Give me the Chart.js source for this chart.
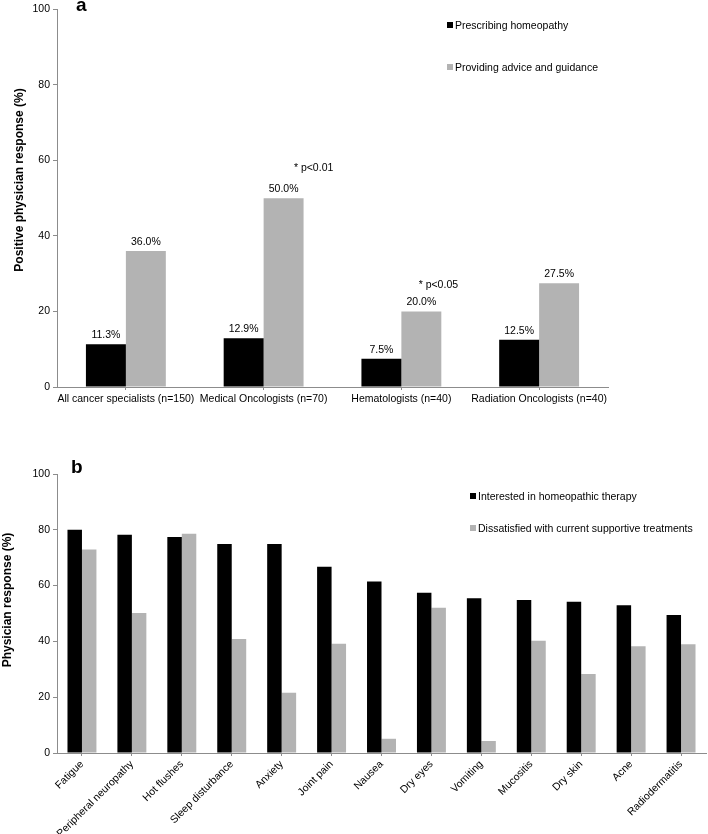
<!DOCTYPE html>
<html>
<head>
<meta charset="utf-8">
<script src="https://cdn.jsdelivr.net/npm/chart.js@4.4.0/dist/chart.umd.min.js"></script>
<style>
  body { margin: 0; background: #fff; font-family: "Liberation Sans", Arial, sans-serif; }
  #wrap { position: relative; width: 708px; height: 834px; overflow: hidden; }
  .cv { position: absolute; left: 0; }
  .panel { position: absolute; font-weight: bold; font-size: 19px; }
  .leg { position: absolute; font-size: 10.5px; line-height: 12px; white-space: nowrap; }
  .leg i { display: inline-block; width: 6px; height: 6px; margin-right: 2px; vertical-align: 1px; }
  .ytitle { position: absolute; width: 260px; height: 14px; line-height: 14px; text-align: center;
            font-size: 12px; font-weight: bold; transform: rotate(-90deg); white-space: nowrap; }
</style>
</head>
<body>
<div id="wrap">
  <canvas id="chartA" class="cv" style="top:0" width="708" height="420"></canvas>
  <canvas id="chartB" class="cv" style="top:440px" width="708" height="394"></canvas>
  <div class="panel" style="left:76px;top:-6px">a</div>
  <div class="panel" style="left:71px;top:456px">b</div>
  <div id="titleA" class="ytitle" style="left:-111px;top:173px"></div>
  <div id="titleB" class="ytitle" style="left:-123px;top:593px"></div>
  <div id="legA"></div>
  <div id="legB"></div>
</div>
<script>
// panel a
let groups = ["All cancer specialists (n=150)", "Medical Oncologists (n=70)", "Hematologists (n=40)", "Radiation Oncologists (n=40)"];
let prescribing = [11.3, 12.9, 7.5, 12.5];
let advice = [36.0, 50.0, 20.0, 27.5];
let seriesA = ["Prescribing homeopathy", "Providing advice and guidance"];
let notes = ["", "* p<0.01", "* p<0.05", ""];

// panel b
let symptoms = ["Fatigue", "Peripheral neuropathy", "Hot flushes", "Sleep disturbance", "Anxiety", "Joint pain",
  "Nausea", "Dry eyes", "Vomiting", "Mucositis", "Dry skin", "Acne", "Radiodermatitis"];
let interested = [80.0, 78.2, 77.4, 74.9, 74.9, 66.8, 61.5, 57.4, 55.5, 54.8, 54.2, 53.0, 49.5];
let dissatisfied = [72.9, 50.2, 78.6, 40.9, 21.6, 39.2, 5.1, 52.1, 4.3, 40.2, 28.3, 38.3, 39.0];
let seriesB = ["Interested in homeopathic therapy", "Dissatisfied with current supportive treatments"];

let yTicks = [0, 20, 40, 60, 80, 100];
let yTitles = ["Positive physician response (%)", "Physician response (%)"];

let black = "#000000";
let grey = "#b3b3b3";
let axisCol = "#8c8c8c";
let font = "Liberation Sans, Arial, sans-serif";

Chart.defaults.font.family = font;
Chart.defaults.font.size = 10.5;
Chart.defaults.color = "#000";
Chart.defaults.animation = false;

document.getElementById("titleA").textContent = yTitles[0];
document.getElementById("titleB").textContent = yTitles[1];

function makeLegend(id, names, left, tops) {
  let box = document.getElementById(id);
  let cols = [black, grey];
  names.forEach(function (n, i) {
    let d = document.createElement("div");
    d.className = "leg";
    d.style.left = left + "px";
    d.style.top = tops[i] + "px";
    d.innerHTML = '<i style="background:' + cols[i] + '"></i>' + n;
    box.appendChild(d);
  });
}
makeLegend("legA", seriesA, 447, [19, 61]);
makeLegend("legB", seriesB, 470, [490, 522]);

function yScale(w) {
  return {
    min: 0, max: 100,
    afterFit: function (s) { s.width = w; },
    afterBuildTicks: function (s) { s.ticks = yTicks.map(function (v) { return { value: v }; }); },
    grid: { drawOnChartArea: false, drawTicks: true, tickLength: 4, color: axisCol },
    border: { display: true, color: axisCol, width: 1 },
    ticks: { padding: 3, color: "#000", font: { size: 10.5 } }
  };
}

// value labels and notes over panel a bars
let labelPlugin = {
  id: "barLabels",
  afterDatasetsDraw: function (chart) {
    let ctx = chart.ctx;
    ctx.save();
    ctx.fillStyle = "#000";
    ctx.font = "10.5px " + font;
    ctx.textAlign = "center";
    ctx.textBaseline = "middle";
    chart.data.datasets.forEach(function (ds, di) {
      chart.getDatasetMeta(di).data.forEach(function (bar, i) {
        ctx.fillText(ds.data[i].toFixed(1) + "%", bar.x, bar.y - 9);
      });
    });
    let meta = chart.getDatasetMeta(1);
    notes.forEach(function (t, i) {
      if (!t) return;
      let bar = meta.data[i];
      if (i === 1) ctx.fillText(t, bar.x + 30, bar.y - 30);
      else ctx.fillText(t, bar.x + 17, bar.y - 26);
    });
    ctx.restore();
  }
};

new Chart(document.getElementById("chartA"), {
  type: "bar",
  data: {
    labels: groups,
    datasets: [
      { label: seriesA[0], data: prescribing, backgroundColor: black },
      { label: seriesA[1], data: advice, backgroundColor: grey }
    ]
  },
  options: {
    responsive: false,
    categoryPercentage: 0.58,
    barPercentage: 1,
    layout: { padding: { top: 7, right: 100, left: 0, bottom: 0 } },
    plugins: { legend: { display: false }, tooltip: { enabled: false } },
    scales: {
      x: {
        afterFit: function (s) { s.height = 33; },
        grid: { drawOnChartArea: false, drawTicks: true, tickLength: 3, offset: false, color: axisCol },
        border: { display: true, color: axisCol, width: 1 },
        ticks: { padding: 3, maxRotation: 0, autoSkip: false, color: "#000", font: { size: 10.5 } }
      },
      y: yScale(57)
    }
  },
  plugins: [labelPlugin]
});

new Chart(document.getElementById("chartB"), {
  type: "bar",
  data: {
    labels: symptoms,
    datasets: [
      { label: seriesB[0], data: interested, backgroundColor: black },
      { label: seriesB[1], data: dissatisfied, backgroundColor: grey }
    ]
  },
  options: {
    responsive: false,
    categoryPercentage: 0.58,
    barPercentage: 1,
    layout: { padding: { top: 34, right: 2, left: 0, bottom: 0 } },
    plugins: { legend: { display: false }, tooltip: { enabled: false } },
    scales: {
      x: {
        afterFit: function (s) { s.height = 81; },
        grid: { drawOnChartArea: false, drawTicks: true, tickLength: 3, offset: false, color: axisCol },
        border: { display: true, color: axisCol, width: 1 },
        ticks: { padding: 2, minRotation: 45, maxRotation: 45, autoSkip: false, color: "#000", font: { size: 10.5 } }
      },
      y: yScale(57)
    }
  }
});
</script>
</body>
</html>
